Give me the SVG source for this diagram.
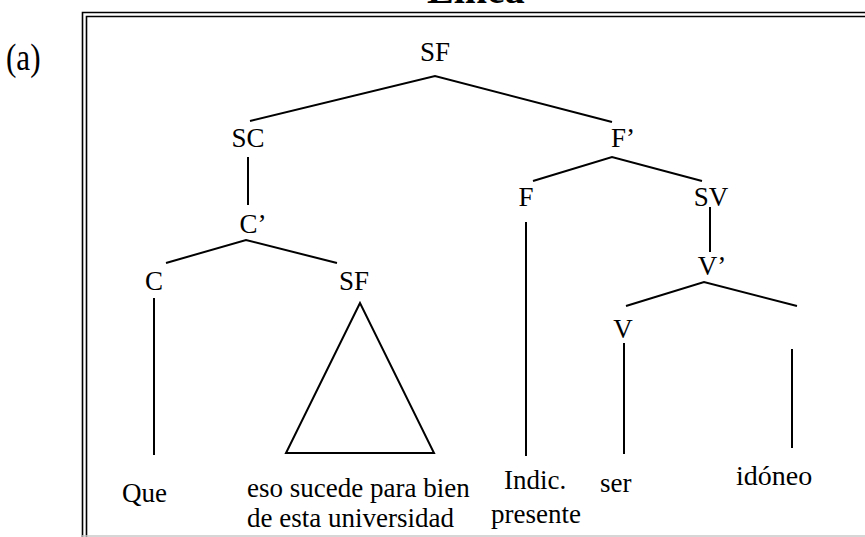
<svg xmlns="http://www.w3.org/2000/svg" width="865" height="537" viewBox="0 0 865 537">
<style>
text{font-family:"Liberation Serif","Times New Roman",serif;fill:#000}
.n{font-size:27px;text-anchor:middle}
.w{font-size:27px}
.e{stroke:#000;stroke-width:2;fill:none;stroke-linecap:butt}
.fr{stroke:#000;stroke-width:1.6;fill:none}
</style>
<rect width="865" height="537" fill="#fff"/>
<text x="427" y="3" style="font-size:40px;font-weight:bold">Línea</text>
<text transform="translate(6,70) scale(0.82,1)" style="font-size:38px">(a)</text>
<g id="frame">
<path class="fr" d="M82.5,537 V12.5 H866"/>
<path class="fr" d="M86.5,537 V16.5 H866"/>
<line x1="82" y1="536" x2="865" y2="536" stroke="#c8c8c8" stroke-width="1.5"/>
</g>
<g id="connectors">
<polyline class="e" points="250,121 435,76 612,122"/>
<line class="e" x1="248" y1="157" x2="248" y2="205"/>
<polyline class="e" points="166,263 246,240 337,263"/>
<line class="e" x1="154" y1="298" x2="154" y2="455"/>
<polygon class="e" points="360,303 286,453 434,453"/>
<polyline class="e" points="533,181 612,157 702,181"/>
<line class="e" x1="526" y1="222" x2="526" y2="456"/>
<line class="e" x1="710" y1="207" x2="710" y2="252"/>
<polyline class="e" points="626,306 704,282 797,306"/>
<line class="e" x1="624" y1="343" x2="624" y2="454"/>
<line class="e" x1="792" y1="349" x2="792" y2="448"/>
</g>
<g id="SF-top"><text class="n" x="435" y="61">SF</text></g>
<g id="SC"><text class="n" x="248" y="147">SC</text></g>
<g id="Fbar"><text class="n" x="623" y="147">F’</text></g>
<g id="Cbar"><text class="n" x="253" y="233">C’</text></g>
<g id="C"><text class="n" x="154" y="290">C</text></g>
<g id="SF-low"><text class="n" x="354" y="290">SF</text></g>
<g id="F"><text class="n" x="526" y="206">F</text></g>
<g id="SV"><text class="n" x="711" y="206">SV</text></g>
<g id="Vbar"><text class="n" x="712" y="275">V’</text></g>
<g id="V"><text class="n" x="623" y="338">V</text></g>
<g id="Que"><text class="w" x="122" y="502">Que</text></g>
<g id="eso"><text class="w" x="247" y="497">eso sucede para bien</text><text class="w" x="247" y="527">de esta universidad</text></g>
<g id="indic"><text class="w" x="504" y="489">Indic.</text><text class="w" x="491" y="523">presente</text></g>
<g id="ser"><text class="w" x="600" y="492">ser</text></g>
<g id="idoneo"><text x="736" y="485" style="font-size:28px">idóneo</text></g>
</svg>
